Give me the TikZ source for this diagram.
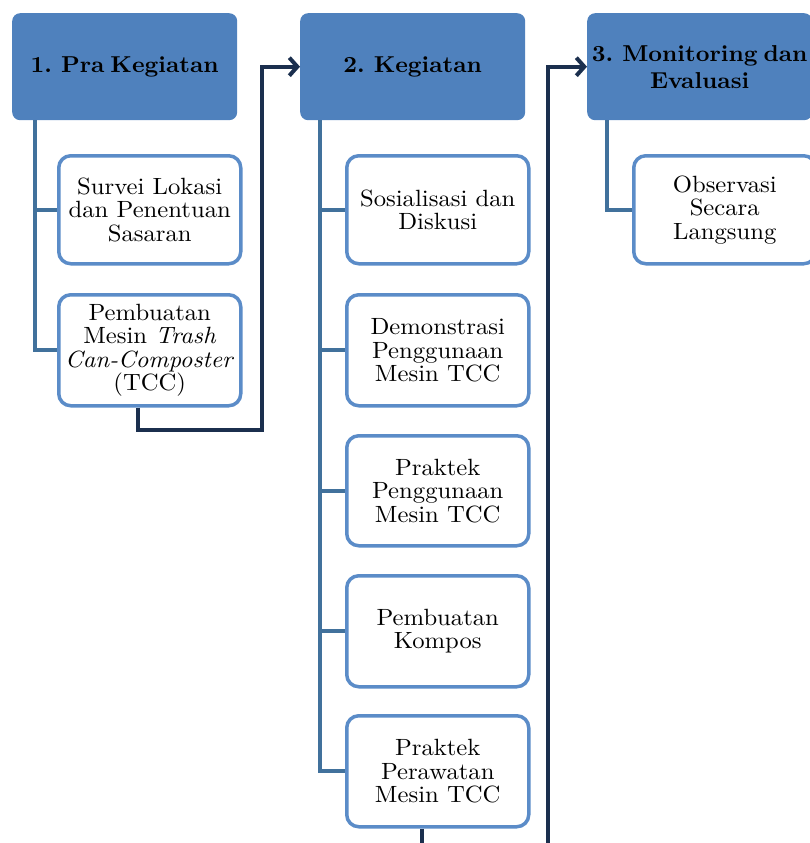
\documentclass[tikz,border=0pt]{standalone}
\usepackage{fontspec}
\setmainfont{lmroman10}[Extension=.otf, UprightFont=*-regular, BoldFont=*-bold, ItalicFont=*-italic, FakeStretch=1.05]
\newfontfamily\headfam{lmroman10}[Extension=.otf, UprightFont=*-bold, FakeStretch=1.04, WordSpace=0.65]
\usetikzlibrary{arrows.meta,calc}
\definecolor{headblue}{HTML}{4F81BD}
\definecolor{boxblue}{HTML}{5B8CC8}
\definecolor{branchblue}{HTML}{41719C}
\definecolor{darknavy}{HTML}{1B2F4E}
\tikzset{
  header/.style={rectangle, rounded corners=8pt, fill=headblue, draw=none, anchor=north west,
    minimum width=225pt, minimum height=107pt, align=center, text=black,
    font=\headfam\fontsize{23}{27}\selectfont, inner sep=0pt},
  childbox/.style={rectangle, rounded corners=12pt, fill=white, draw=boxblue, line width=3.5pt,
    anchor=north west, minimum width=182pt, align=center, text=black,
    font=\fontsize{23.5}{23.5}\selectfont, inner sep=0pt},
  branch/.style={draw=branchblue, line width=4pt},
  flow/.style={draw=darknavy, line width=4.2pt, -{Straight Barb[length=8pt,width=18pt,line width=4pt]}}
}
\begin{document}
\begin{tikzpicture}[x=1pt,y=-1pt]
\useasboundingbox (0,0) rectangle (809,843);
% headers
\node[header] (h1) at (12,13) {1. Pra Kegiatan};
\node[header] (h2) at (300,13) {2. Kegiatan};
\node[header] (h3) at (587,13) {3. Monitoring dan\\Evaluasi};
% column 1 children
\node[childbox, minimum height=108pt] (c11) at (57,154) {Survei Lokasi\\dan Penentuan\\Sasaran};
\node[childbox, minimum height=111pt] (c12) at (57,293) {Pembuatan\\Mesin \textit{Trash}\\\textit{Can-Composter}\\(TCC)};
% column 2 children
\node[childbox, minimum height=108pt] (c21) at (345,154) {Sosialisasi dan\\Diskusi};
\node[childbox, minimum height=111pt] (c22) at (345,293) {Demonstrasi\\Penggunaan\\Mesin TCC};
\node[childbox, minimum height=110pt] (c23) at (345,434) {Praktek\\Penggunaan\\Mesin TCC};
\node[childbox, minimum height=111pt] (c24) at (345,574) {Pembuatan\\Kompos};
\node[childbox, minimum height=111pt] (c25) at (345,714) {Praktek\\Perawatan\\Mesin TCC};
% column 3 child
\node[childbox, minimum height=108pt] (c31) at (632,154) {Observasi\\Secara\\Langsung};
% branches
\draw[branch] ($(h1.south west)+(23,0)$) |- (c11.west);
\draw[branch] ($(h1.south west)+(23,0)$) |- (c12.west);
\foreach \c in {c21,c22,c23,c24,c25}
  \draw[branch] ($(h2.south west)+(20,0)$) |- (\c.west);
\draw[branch] ($(h3.south west)+(20,0)$) |- (c31.west);
% flow connectors
\coordinate (j1) at (262,430);
\draw[flow] ($(c12.south)+(-12,0)$) |- (j1) |- (h2.west);
\coordinate (j2) at (548,870);
\draw[flow] ($(c25.south)+(-16,0)$) |- (j2) |- (h3.west);
\end{tikzpicture}
\end{document}
